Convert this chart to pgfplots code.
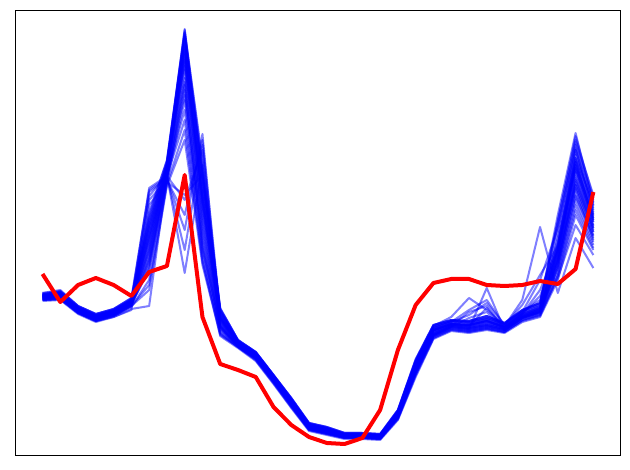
\documentclass[border=0pt]{standalone}
\usepackage{pgfplots}
\pgfplotsset{compat=1.18}
\usepackage{pgfplotstable}
\pgfplotstableread{
i l0 l1 l2 l3 l4 l5 l6 l7 l8 l9 l10 l11 l12 l13 l14 l15 l16 l17 l18 l19 l20 l21 l22 l23 l24 l25 l26 l27 l28 l29 l30 l31 l32 l33 l34 l35
0 294 296 298 300 295 297 299 293 301 296 298 294 297 300 295 299 296 298 295 297 299 296 293 300 297 295 298 296 294 299 297 296 300 295 298 297
1 292 294 297 299 291 296 298 290 300 293 296 292 295 299 294 297 293 297 294 296 298 295 291 299 295 293 297 294 292 298 296 295 299 293 297 296
2 307 309 312 313 306 310 311 306 314 308 311 307 310 313 308 312 309 311 308 310 312 309 306 313 310 308 311 309 307 312 310 309 313 308 311 310
3 315 317 320 321 314 318 319 314 322 316 319 315 318 321 316 320 317 319 316 318 320 317 314 321 318 316 319 317 315 320 318 317 321 316 319 318
4 310 312 315 316 309 313 314 309 317 311 314 310 313 316 311 315 312 314 311 313 315 312 309 317 313 311 314 312 310 315 313 312 316 311 314 313
5 300 302 305 307 299 303 304 298 309 301 304 299 303 306 300 305 302 304 300 302 306 301 298 310 303 301 304 302 300 305 303 302 306 301 304 303
6 225 240 262 280 218 250 270 215 306 232 258 222 245 290 228 265 238 255 188 192 196 200 190 205 235 220 248 230 212 268 242 252 285 226 260 236
7 165 172 178 183 162 170 180 160 176 168 175 163 171 186 166 178 169 174 176 178 175 180 177 182 168 164 172 167 161 179 170 173 184 165 176 169
8 29 45 70 100 35 55 85 32 120 50 78 40 62 140 38 95 58 110 200 230 273 215 250 195 42 33 60 48 30 90 52 66 130 36 82 46
9 180 200 230 250 170 210 240 160 260 190 220 175 205 265 185 245 195 255 150 134 165 140 145 175 195 178 215 200 165 235 205 225 262 172 248 188
10 310 318 326 334 308 320 330 312 336 316 324 309 322 335 314 328 319 332 315 321 327 312 325 318 317 311 323 318 309 329 320 326 333 313 327 316
11 341 343 346 347 340 344 346 341 348 342 345 340 344 347 342 346 343 347 342 344 346 341 345 343 343 341 345 343 340 346 344 345 347 342 346 343
12 353 355 358 360 352 356 358 352 361 354 357 352 356 359 354 358 355 359 353 356 358 353 357 355 355 353 357 355 352 358 356 357 360 354 358 355
13 376 378 381 383 375 379 381 375 384 377 380 375 379 382 377 381 378 382 376 379 381 376 380 378 378 376 380 378 375 381 379 380 383 377 381 378
14 399 402 405 407 398 403 405 399 408 401 404 398 403 406 400 405 402 406 400 403 405 400 404 402 402 399 404 402 398 405 403 404 407 400 405 402
15 424 426 429 430 423 427 428 424 431 425 428 423 427 430 425 429 426 429 424 427 428 425 428 426 426 424 428 426 423 429 427 428 430 425 429 426
16 428 430 433 434 427 431 432 428 435 429 432 427 431 434 429 433 430 433 428 431 432 429 432 430 430 428 432 430 427 433 431 432 434 429 433 430
17 434 435 437 438 433 436 437 434 439 435 437 433 436 438 434 437 435 438 434 436 437 434 437 435 435 434 437 435 433 437 436 437 438 434 437 435
18 434 435 437 438 433 436 437 434 439 435 437 433 436 438 434 437 435 438 434 436 437 434 437 435 435 434 437 435 433 437 436 437 438 434 437 435
19 435 436 438 439 434 437 438 435 440 436 438 434 437 439 435 438 436 439 435 437 438 435 438 436 436 435 438 436 434 438 437 438 439 435 438 436
20 411 414 417 419 410 415 417 411 420 413 416 410 415 418 412 417 414 418 412 415 417 412 416 414 414 411 416 414 410 417 415 416 419 412 417 414
21 361 366 371 375 359 368 372 361 377 364 370 360 368 374 363 371 366 373 362 367 371 363 369 365 366 362 370 366 360 372 368 370 375 363 371 366
22 326 330 335 338 325 332 336 326 339 329 334 325 332 337 328 335 330 336 327 331 335 328 333 330 330 327 334 330 325 336 332 334 338 328 335 330
23 321 324 327 330 320 325 328 317 331 323 326 320 325 329 322 327 324 329 321 325 327 322 326 324 324 321 326 324 320 328 325 326 330 322 327 324
24 322 326 329 332 321 327 330 298 333 324 312 321 326 331 310 329 325 331 323 327 329 315 328 325 325 322 328 325 321 330 326 328 332 323 318 325
25 318 322 288 329 316 324 327 310 330 320 306 316 323 328 300 326 321 328 318 323 326 303 325 320 321 318 325 321 316 327 308 325 329 319 312 321
26 324 327 330 332 323 328 330 326 333 326 329 323 328 331 325 330 327 332 324 328 330 325 329 327 327 324 329 327 323 330 328 329 332 325 330 327
27 311 315 318 320 310 316 318 300 322 313 317 310 316 320 312 318 314 320 312 316 318 305 317 314 314 311 317 314 310 318 316 317 321 312 318 314
28 304 308 312 315 303 310 313 227 317 306 311 303 309 314 300 312 290 315 280 309 312 275 310 296 308 305 311 307 303 313 309 311 316 306 312 308
29 215 255 265 275 225 250 268 293 280 245 260 220 252 272 242 262 248 278 228 256 266 246 258 250 245 232 258 250 222 268 252 260 276 238 262 248
30 133 160 185 205 145 170 195 238 215 150 178 140 165 200 155 190 162 225 148 172 188 158 182 168 158 142 176 165 136 196 168 180 210 150 185 162
31 205 215 232 245 200 222 238 268 250 210 228 195 218 242 208 235 220 255 212 225 240 203 230 222 214 202 226 218 198 236 220 228 248 206 232 216
}\blues
\pgfplotstableread{
i r
0 274
1 302
2 285
3 278
4 285
5 296
6 272
7 266
8 175
9 317
10 364
11 370
12 377
13 407
14 425
15 437
16 443
17 444
18 438
19 410
20 350
21 305
22 283
23 279
24 279
25 285
26 286
27 285
28 281
29 284
30 269
31 192
}\redline
\begin{document}
\begin{tikzpicture}
\useasboundingbox (-15pt,-15pt) rectangle (615pt,455pt);
\begin{axis}[at={(0,0)}, anchor=south west, scale only axis,
  width=605pt, height=445pt,
  xmin=-1.55, xmax=32.5, ymin=10, ymax=455, y dir=reverse,
  ticks=none, axis line style={line width=0.8pt, black}]
\pgfplotsinvokeforeach{0,...,35}{
  \addplot[blue, line width=2pt, opacity=0.5, line join=round, no markers] table[x=i, y=l#1]{\blues};
}
\addplot[red, line width=4pt, line join=round, no markers] table[x=i, y=r]{\redline};
\end{axis}
\end{tikzpicture}
\end{document}
